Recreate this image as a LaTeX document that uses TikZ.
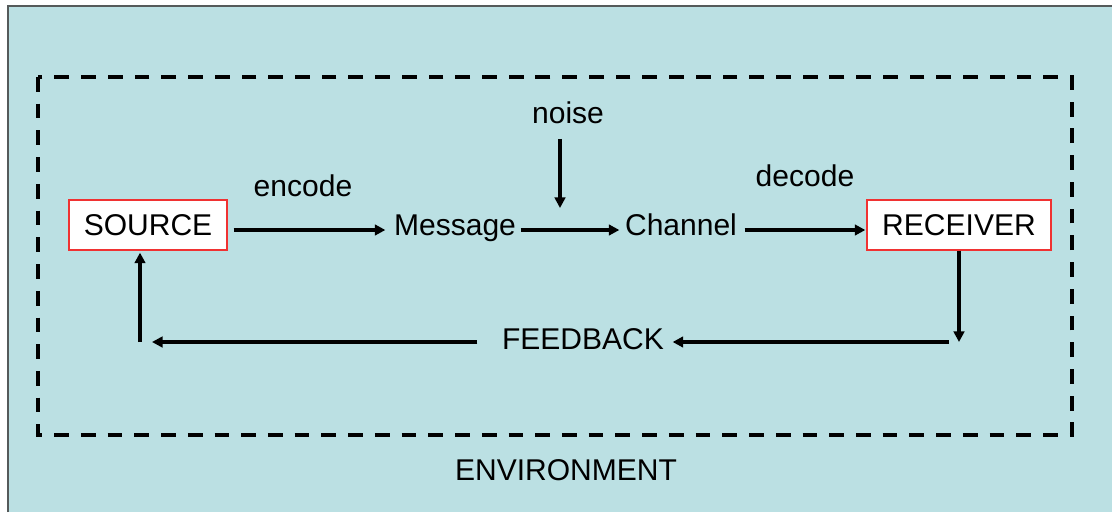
\documentclass[tikz,border=0pt]{standalone}
\usepackage{fontspec}
\setmainfont{Liberation Sans}
\usetikzlibrary{arrows.meta}

\definecolor{fundo}{RGB}{187,224,227}
\definecolor{borda}{RGB}{85,90,90}
\definecolor{vermelho}{RGB}{240,50,50}

\begin{document}
\begin{tikzpicture}[x=0.01cm,y=-0.01cm,
		every node/.style={font=\fontsize{8.54}{10}\selectfont},
		caixa/.style={draw=vermelho,fill=white,line width=0.35pt,minimum height=0.5cm,inner sep=0pt},
		rotulo/.style={inner sep=0pt,text height=0.716em,text depth=0.21em},
		seta/.style={line width=1.15pt,-{Triangle[length=3pt,width=3pt]}},
		linha/.style={line width=1.15pt}]
		\useasboundingbox (0,0) rectangle (1112,512);
		% Fundo
		\fill[fundo] (8,6) rectangle (1112,512);
		\draw[borda,line width=0.6pt] (8,512) -- (8,6) -- (1112,6);
		
		% Ambiente (tracejado)
		\draw[line width=1.15pt,dash pattern=on 4.2pt off 3.4pt] (38,77) rectangle (1072,435);
		
		% Caixas
		\node[caixa,minimum width=1.58cm] (source) at (148,225) {SOURCE};
		\node[caixa,minimum width=1.84cm] (receiver) at (959,225) {RECEIVER};
		
		% Textos
		\node[rotulo] (message) at (455,227) {Message};
		\node[rotulo] (channel) at (681,227) {Channel};
		\node[rotulo] (encode) at (303,188) {encode};
		\node[rotulo] (decode) at (805,178) {decode};
		\node[rotulo] (noise) at (568,115) {noise};
		\node[rotulo] (feedback) at (583,341) {FEEDBACK};
		\node[rotulo] (environment) at (566,472) {ENVIRONMENT};
		
		% Cantos
		\coordinate (ruido) at (560,208);
		\coordinate (rcanto) at (959,342);
		\coordinate (lcanto) at (140,342);
		
		% Setas
		\draw[seta] ([shift={(6,5)}]source.east) -- ([shift={(-8,3)}]message.west);
		\draw[seta] ([shift={(4,3)}]message.east) -- ([shift={(-5,3)}]channel.west);
		\draw[seta] ([shift={(7,3)}]channel.east) -- ([shift={(-1,5)}]receiver.west);
		\draw[seta] ([shift={(-8,7)}]noise.south) -- (ruido);
		\draw[seta] (receiver.south) -- (rcanto);
		\draw[seta] ([shift={(-10,0)}]rcanto) -- ([shift={(8,1)}]feedback.east);
		\draw[seta] ([shift={(-24,1)}]feedback.west) -- ([shift={(12,0)}]lcanto);
		\draw[seta] (lcanto) -- ([shift={(-8,2)}]source.south);
	\end{tikzpicture}
\end{document}
